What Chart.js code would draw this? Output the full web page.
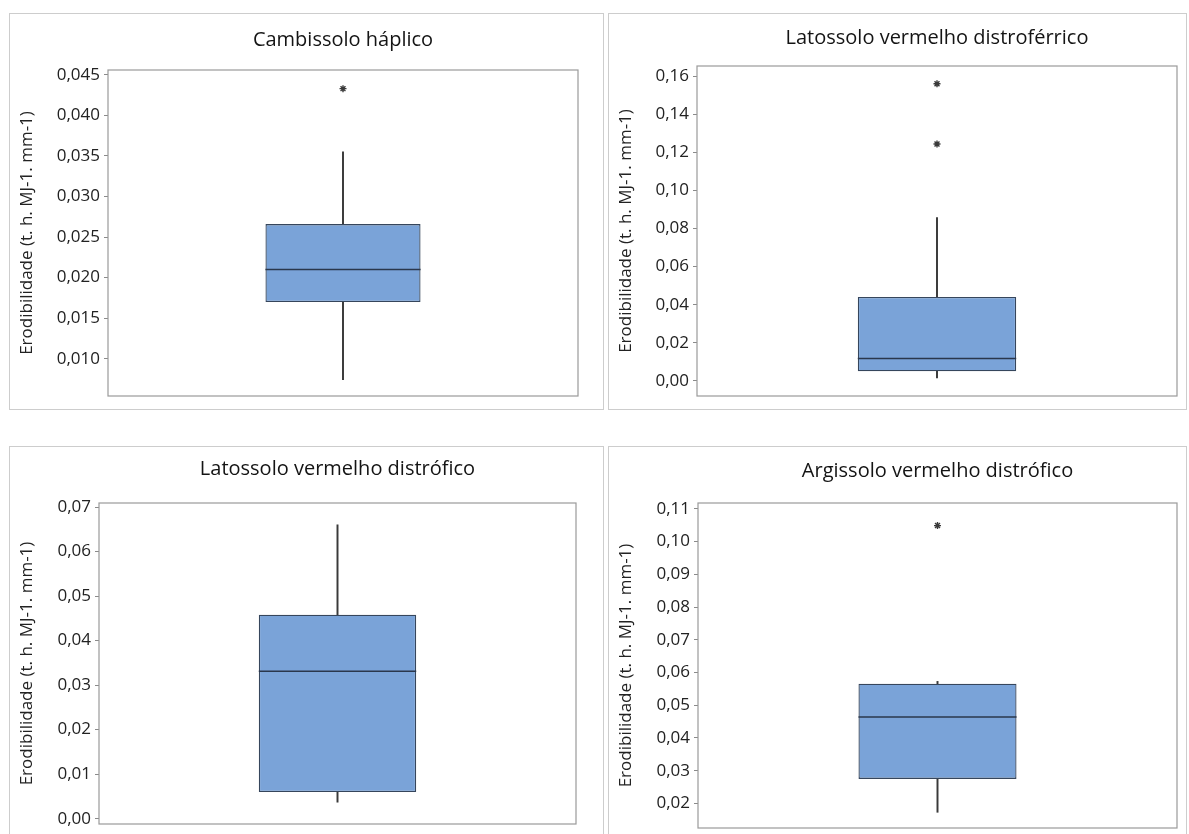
<!DOCTYPE html>
<html>
<head>
<meta charset="utf-8">
<script src="https://cdn.jsdelivr.net/npm/chart.js@4"></script>
<style>
html, body { margin: 0; padding: 0; background: #ffffff; width: 1189px; height: 834px; overflow: hidden; }
.frame { position: absolute; border: 1px solid #cdcdcd; box-sizing: border-box; }
canvas { position: absolute; }
</style>
</head>
<body>
<script>
// ---------------- data ----------------
const panelTitles = [
  'Cambissolo háplico',
  'Latossolo vermelho distroférrico',
  'Latossolo vermelho distrófico',
  'Argissolo vermelho distrófico'
];
const axisTitle = 'Erodibilidade (t. h. MJ-1. mm-1)';

const q1Values          = [0.0170, 0.0051, 0.0060, 0.0275];
const medianValues      = [0.0210, 0.0118, 0.0331, 0.0464];
const q3Values          = [0.0266, 0.0441, 0.0458, 0.0566];
const whiskerLowValues  = [0.0074, 0.0016, 0.0037, 0.0173];
const whiskerHighValues = [0.0355, 0.0858, 0.0660, 0.0573];
const outlierValues     = [[0.0433], [0.1560, 0.1244], [], [0.1049]];

const axisMin = [0.0054, -0.0079, -0.0012, 0.0125];
const axisMax = [0.0456, 0.1653, 0.0709, 0.1118];
const tickValues = [
  [0.010, 0.015, 0.020, 0.025, 0.030, 0.035, 0.040, 0.045],
  [0.00, 0.02, 0.04, 0.06, 0.08, 0.10, 0.12, 0.14, 0.16],
  [0.00, 0.01, 0.02, 0.03, 0.04, 0.05, 0.06, 0.07],
  [0.02, 0.03, 0.04, 0.05, 0.06, 0.07, 0.08, 0.09, 0.10, 0.11]
];
const tickDecimals = [3, 2, 2, 2];

// ---------------- layout (positions / styles) ----------------
const panelLayout = [
  { left: 10,  top: 13,  width: 593, height: 396, frameH: 397, areaLeft: 98, areaTop: 57, padRight: 25, padBottom: 13, titleY: 27 },
  { left: 609, top: 13,  width: 577, height: 396, frameH: 397, areaLeft: 88, areaTop: 53, padRight: 9,  padBottom: 13, titleY: 25 },
  { left: 10,  top: 446, width: 593, height: 388, frameH: 420, areaLeft: 89, areaTop: 57, padRight: 27, padBottom: 10, titleY: 23 },
  { left: 609, top: 446, width: 577, height: 388, frameH: 420, areaLeft: 89, areaTop: 57, padRight: 9,  padBottom: 6,  titleY: 25 }
];
const FONT = "'Open Sans', 'Noto Sans', sans-serif";
const BOX_FRACTION = 0.33;
const TITLE_SIZE = 20;
const TITLE_LH = 1.2;

const plotFrame = {
  id: 'plotFrame',
  beforeDatasetsDraw(chart) {
    const { ctx, chartArea: a } = chart;
    ctx.save();
    ctx.strokeStyle = '#9a9a9a';
    ctx.lineWidth = 1.2;
    ctx.strokeRect(a.left, a.top, a.right - a.left, a.bottom - a.top);
    ctx.restore();
  }
};

panelLayout.forEach((L, i) => {
  const frame = document.createElement('div');
  frame.className = 'frame';
  frame.style.left = (L.left - 1) + 'px';
  frame.style.top = L.top + 'px';
  frame.style.width = (L.width + 2) + 'px';
  frame.style.height = L.frameH + 'px';
  document.body.appendChild(frame);

  const canvas = document.createElement('canvas');
  canvas.width = L.width;
  canvas.height = L.height;
  canvas.style.left = L.left + 'px';
  canvas.style.top = L.top + 'px';
  canvas.style.width = L.width + 'px';
  canvas.style.height = L.height + 'px';
  document.body.appendChild(canvas);

  const category = panelTitles[i];
  const titleLine = TITLE_SIZE * TITLE_LH;
  const titlePadTop = L.titleY - titleLine / 2;
  const titlePadBottom = L.areaTop - titlePadTop - titleLine;

  new Chart(canvas, {
    type: 'bar',
    data: {
      labels: [category],
      datasets: [
        { type: 'bar', data: [[whiskerLowValues[i], q1Values[i]]], backgroundColor: '#3a3a3a',
          barThickness: 1.3, grouped: false, order: 3 },
        { type: 'bar', data: [[q3Values[i], whiskerHighValues[i]]], backgroundColor: '#3a3a3a',
          barThickness: 1.3, grouped: false, order: 3 },
        { type: 'bar', data: [[q1Values[i], q3Values[i]]], backgroundColor: '#7aa3d8',
          borderColor: '#36465c', borderWidth: 1.3, borderSkipped: false,
          barPercentage: BOX_FRACTION, categoryPercentage: 1, grouped: false, order: 2 },
        { type: 'line', data: [{ x: category, y: medianValues[i] }], showLine: false,
          pointStyle: 'line',
          pointRadius: (ctx) => { const a = ctx.chart.chartArea; return a ? (a.right - a.left) * BOX_FRACTION / 2 : 0; },
          pointBorderColor: '#2a374c', pointBackgroundColor: '#2a374c', pointBorderWidth: 1.5, order: 1 },
        { type: 'line', data: outlierValues[i].map(v => ({ x: category, y: v })), showLine: false,
          pointStyle: 'star', pointRadius: 3.5, pointBorderColor: '#3a3a3a', pointBackgroundColor: '#3a3a3a',
          pointBorderWidth: 1.4, order: 0 }
      ]
    },
    options: {
      responsive: false,
      animation: false,
      events: [],
      layout: { padding: { top: 0, left: 0, right: L.padRight, bottom: L.padBottom } },
      plugins: {
        legend: { display: false },
        tooltip: { enabled: false },
        title: {
          display: true, text: panelTitles[i], fullSize: false, color: '#141414',
          font: { family: FONT, size: TITLE_SIZE, weight: 'normal', lineHeight: TITLE_LH },
          padding: { top: titlePadTop, bottom: titlePadBottom }
        }
      },
      scales: {
        x: { display: false, offset: true },
        y: {
          min: axisMin[i], max: axisMax[i],
          afterBuildTicks: (s) => { s.ticks = tickValues[i].map(v => ({ value: v })); },
          afterFit: (s) => { s.width = L.areaLeft; s.paddingTop = 0; s.paddingBottom = 0; },
          ticks: {
            callback: (v) => Number(v).toFixed(tickDecimals[i]).replace('.', ','),
            font: { family: FONT, size: 17 }, color: '#222222', padding: 4
          },
          grid: { drawOnChartArea: false, drawTicks: true, tickLength: 4, color: '#8a8a8a' },
          border: { display: false },
          title: {
            display: true, text: axisTitle, color: '#222222',
            font: { family: FONT, size: 17 }, padding: { top: 6.8, bottom: 0 }
          }
        }
      }
    },
    plugins: [plotFrame]
  });
});
</script>
</body>
</html>
